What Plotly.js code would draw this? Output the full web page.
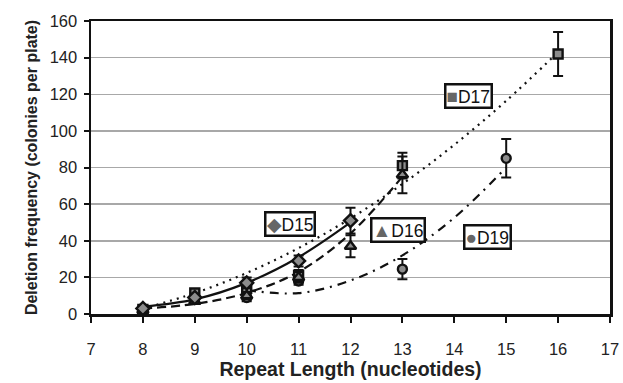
<!DOCTYPE html>
<html>
<head>
<meta charset="utf-8">
<script src="https://cdn.plot.ly/plotly-3.0.1.min.js"></script>
<style>html,body{margin:0;padding:0;background:#fff;}#chart{width:623px;height:383px;}</style>
</head>
<body>
<div id="chart"></div>
<script>
// Measured points (x = repeat length, y = colonies per plate, e = error)
const d15X = [8, 9, 10, 11, 12];
const d15Y = [3, 9, 17, 29, 51];
const d15E = [1.5, 2, 3, 3, 7];

const d16X = [8, 9, 10, 11, 12, 13];
const d16Y = [2, 7, 10, 20, 37, 76];
const d16E = [1, 1.5, 2, 3, 6, 10];

const d17X = [8, 9, 10, 11, 13, 16];
const d17Y = [2.5, 11.5, 14, 21, 81, 142];
const d17E = [1.5, 2, 4, 3, 7, 12];

const d19X = [10, 11, 13, 15];
const d19Y = [9, 18, 24.5, 85];
const d19E = [2, 2, 5.5, 10.5];

// Trendline values
const fit15X = [8, 9, 10, 11, 12];
const fit15Y = [4, 8, 17, 31, 50];
const fit16X = [8, 9, 10, 11, 12, 13];
const fit16Y = [3, 5.5, 11.5, 23, 44, 75];
const fit17X = [8, 9, 10, 11, 12, 13, 14, 15, 16];
const fit17Y = [3, 11.4, 22.4, 36, 52.2, 71, 92.4, 116.4, 143];
const fit19X = [10, 11, 12, 13, 14, 15];
const fit19Y = [13, 11.4, 18.3, 32, 52.6, 80];

// Label boxes
const labelText = ['D15', 'D16', 'D17', 'D19'];
const labelGlyph = ['◆', '▲', '■', '●'];
const labelX = [10.83, 12.92, 14.27, 14.64];
const labelY = [49.3, 45.8, 119.3, 42.2];

const xTicks = [7, 8, 9, 10, 11, 12, 13, 14, 15, 16, 17];
const yTicks = [0, 20, 40, 60, 80, 100, 120, 140, 160];

const fitLine = (x, y, dash) => ({
  x: x, y: y, mode: 'lines', type: 'scatter', hoverinfo: 'skip',
  line: {color: '#111', width: 2.2, dash: dash, shape: 'spline', smoothing: 1},
  showlegend: false
});
const pts = (x, y, e, sym, size) => ({
  x: x, y: y, mode: 'markers', type: 'scatter', showlegend: false,
  marker: {symbol: sym, size: size, color: '#8c8c8c', line: {color: '#111', width: 2.4}},
  error_y: {type: 'data', array: e, visible: true, color: '#111', thickness: 2, width: 5}
});

const data = [
  fitLine(fit17X, fit17Y, '2px,5px'),
  fitLine(fit19X, fit19Y, '9px,6px,2px,6px'),
  fitLine(fit16X, fit16Y, '9px,5px'),
  fitLine(fit15X, fit15Y, 'solid'),
  pts(d19X, d19Y, d19E, 'circle', 9),
  pts(d17X, d17Y, d17E, 'square', 9),
  pts(d16X, d16Y, d16E, 'triangle-up', 10),
  pts(d15X, d15Y, d15E, 'diamond', 10)
];

const annotations = labelText.map((t, i) => ({
  x: labelX[i], y: labelY[i], xref: 'x', yref: 'y', showarrow: false,
  text: '<span style="color:#666;font-size:19px">' + labelGlyph[i] + '</span>' + t,
  font: {family: 'Liberation Sans, Arial, sans-serif', size: 17.5, color: '#111'},
  bgcolor: '#fff', bordercolor: '#111', borderwidth: 2.5, borderpad: 0
}));

const layout = {
  width: 623, height: 383,
  margin: {l: 91, r: 13, t: 21, b: 69},
  paper_bgcolor: '#fff', plot_bgcolor: '#fff',
  font: {family: 'Liberation Sans, Arial, sans-serif', size: 16.5, color: '#222'},
  xaxis: {
    range: [7, 17], tickvals: xTicks, ticktext: xTicks.map(String),
    showgrid: false, zeroline: false,
    showline: true, linecolor: '#111', linewidth: 2.5, mirror: true,
    ticks: 'outside', ticklen: 6, tickwidth: 2, tickcolor: '#111',
    ticklabelstandoff: 13,
    tickfont: {size: 16.5, color: '#222'},
    title: {text: 'Repeat Length (nucleotides)', font: {size: 19.5, color: '#222', weight: 'bold'}, standoff: 5}
  },
  yaxis: {
    range: [0, 160], tickvals: yTicks, ticktext: yTicks.map(String),
    showgrid: true, gridcolor: '#a8a8a8', gridwidth: 1.5, zeroline: false,
    showline: true, linecolor: '#111', linewidth: 2.5, mirror: true,
    ticks: 'outside', ticklen: 5, tickwidth: 2, tickcolor: '#111',
    ticklabelstandoff: 3,
    tickfont: {size: 16.5, color: '#222'},
    title: {text: 'Deletion frequency (colonies per plate)', font: {size: 16, color: '#222', weight: 'bold'}, standoff: 8}
  },
  annotations: annotations
};

Plotly.newPlot('chart', data, layout, {displayModeBar: false, staticPlot: true});
</script>
</body>
</html>
